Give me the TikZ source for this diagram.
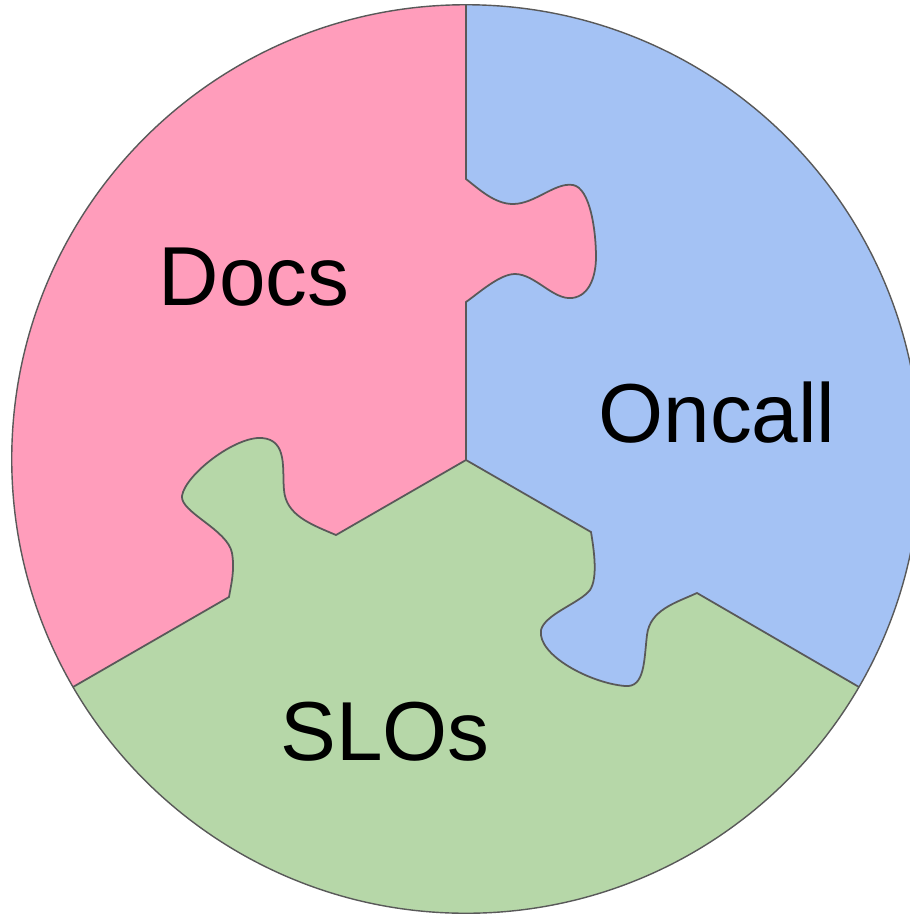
\documentclass[tikz,border=0pt]{standalone}
\usepackage{fontspec}
\setmainfont{Liberation Sans}
\definecolor{docspink}{HTML}{FF9DBB}
\definecolor{oncallblue}{HTML}{A4C2F4}
\definecolor{slogreen}{HTML}{B6D7A8}
\definecolor{edgegray}{HTML}{595959}
\begin{document}
\begin{tikzpicture}[x=0.01cm, y=-0.01cm,
  edge/.style={draw=edgegray, line width=0.5pt},
  rim/.style={draw=edgegray, line width=0.4pt},
  lbl/.style={inner sep=0pt, anchor=base, font=\fontsize{23.8}{28}\selectfont}]
\useasboundingbox (0,0) rectangle (910,914);
\clip (0,0) rectangle (910,914);

\coordinate (O) at (466,459);
\coordinate (C) at (466,460);

% three pieces, cut to the disc
\begin{scope}
  \clip (O) circle [radius=4.54cm];
  \fill[slogreen] (O) circle [radius=4.6cm];
  % Docs piece
  \fill[docspink] (C) -- (466,302)
    .. controls (480,292) and (500,274) .. (515,274)
    .. controls (535,274) and (553,300) .. (572,298)
    .. controls (590,296) and (596,275) .. (596,257)
    .. controls (596,230) and (590,188) .. (573,185)
    .. controls (555,182) and (535,204) .. (513,204)
    .. controls (495,204) and (480,190) .. (466,179)
    -- (466,-100) -- (-100,-100) -- (-100,787) -- (229,597)
    .. controls (231,585) and (235,570) .. (232,553)
    .. controls (228,530) and (180,512) .. (182,496)
    .. controls (185,475) and (235,436) .. (262,438)
    .. controls (288,440) and (282,470) .. (284,490)
    .. controls (286,515) and (310,524) .. (336,535)
    -- cycle;
  % Oncall piece
  \fill[oncallblue] (C) -- (591,532)
    .. controls (594,550) and (598,578) .. (590,590)
    .. controls (580,603) and (545,614) .. (541,630)
    .. controls (537,655) and (590,683) .. (625,686)
    .. controls (645,688) and (644,660) .. (647,635)
    .. controls (650,610) and (675,603) .. (697,593)
    -- (1000,768) -- (1000,-100) -- (466,-100) -- (466,179)
    .. controls (480,190) and (495,204) .. (513,204)
    .. controls (535,204) and (555,182) .. (573,185)
    .. controls (590,188) and (596,230) .. (596,257)
    .. controls (596,275) and (590,296) .. (572,298)
    .. controls (553,300) and (535,274) .. (515,274)
    .. controls (500,274) and (480,292) .. (466,302)
    -- cycle;
\end{scope}

% seams between the pieces
\draw[edge] (C) -- (466,302)
    .. controls (480,292) and (500,274) .. (515,274)
    .. controls (535,274) and (553,300) .. (572,298)
    .. controls (590,296) and (596,275) .. (596,257)
    .. controls (596,230) and (590,188) .. (573,185)
    .. controls (555,182) and (535,204) .. (513,204)
    .. controls (495,204) and (480,190) .. (466,179)
    -- (466,5);
\draw[edge] (C) -- (336,535)
    .. controls (310,524) and (286,515) .. (284,490)
    .. controls (282,470) and (288,440) .. (262,438)
    .. controls (235,436) and (185,475) .. (182,496)
    .. controls (180,512) and (228,530) .. (232,553)
    .. controls (235,570) and (231,585) .. (229,597)
    -- (73,687);
\draw[edge] (C) -- (591,532)
    .. controls (594,550) and (598,578) .. (590,590)
    .. controls (580,603) and (545,614) .. (541,630)
    .. controls (537,655) and (590,683) .. (625,686)
    .. controls (645,688) and (644,660) .. (647,635)
    .. controls (650,610) and (675,603) .. (697,593)
    -- (859,687);

% outer rim
\draw[rim] (O) circle [radius=4.54cm];

% labels
\node[lbl] (docs) at (254,305) {Docs};
\node[lbl] (oncall) at (717,442) {Oncall};
\node[lbl] (slos) at (385,760) {SLOs};
\end{tikzpicture}
\end{document}
